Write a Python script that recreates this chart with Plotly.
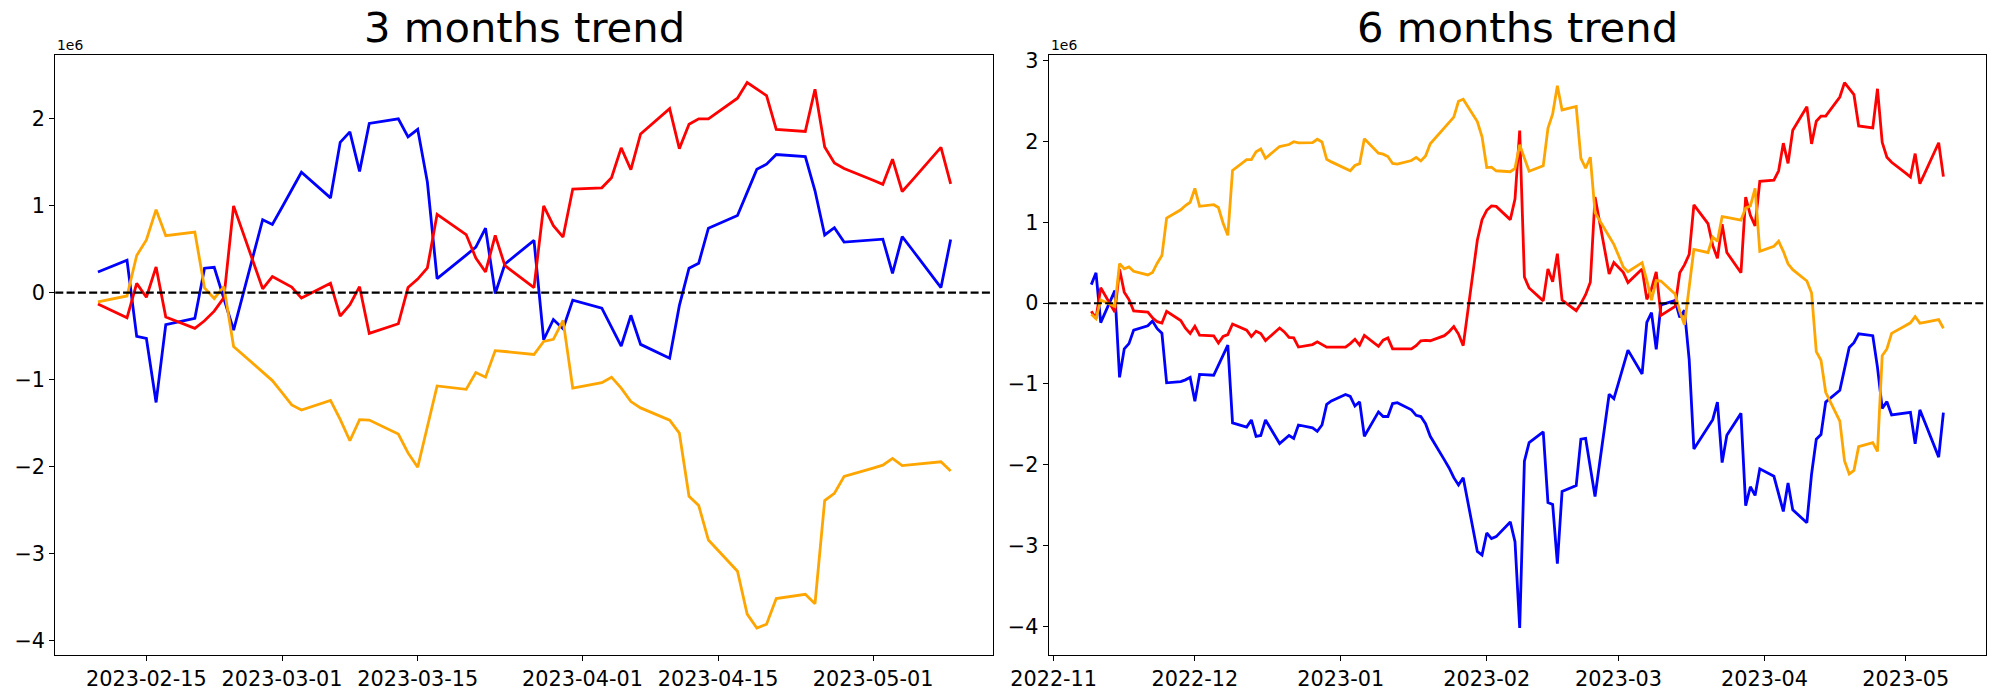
import pandas as pd
import plotly.graph_objects as go

# ---------------- data (values in millions) ----------------
dates_3m = pd.bdate_range("2023-02-10", "2023-05-09")
dates_6m = pd.bdate_range("2022-11-09", "2023-05-09")

blue_3m = [0.237, 0.372, -0.503, -0.527, -1.262, -0.368, -0.295, 0.280, 0.290, -0.070, -0.430, 0.837, 0.783,
           0.980, 1.180, 1.383, 1.088, 1.726, 1.847, 1.393, 1.944, 1.997, 1.789, 1.876, 1.267, 0.160, 0.430,
           0.522, 0.740, -0.010, 0.329, 0.600, -0.542, -0.309, -0.416, -0.087,
           -0.179, -0.397, -0.614, -0.261, -0.595, -0.754, -0.150, 0.280, 0.338, 0.740, 0.885, 1.151, 1.417,
           1.475, 1.586, 1.562, 1.170, 0.662, 0.745, 0.580,
           0.604, 0.614, 0.222, 0.643, 0.498, 0.058, 0.609]
red_3m = [-0.131, -0.290, 0.106, -0.053, 0.295, -0.280, -0.411, -0.324, -0.213, -0.058, 0.996, 0.044, 0.184,
          0.126, 0.063, -0.063, 0.106, -0.271, -0.140, 0.068, -0.469, -0.358, 0.058, 0.155, 0.285, 0.899, 0.667,
          0.397, 0.237, 0.658, 0.309, 0.058, 0.996, 0.769, 0.638, 1.190,
          1.204, 1.320, 1.663, 1.412, 1.823, 2.113, 1.654, 1.934, 1.997, 1.997, 2.234, 2.413, 2.340, 2.263,
          1.876, 1.852, 2.336, 1.673, 1.489, 1.426,
          1.291, 1.243, 1.533, 1.161, 1.286, 1.668, 1.248]
orange_3m = [-0.106, -0.039, 0.426, 0.604, 0.953, 0.653, 0.696, 0.053, -0.068, 0.068, -0.619, -0.914, -1.011,
             -1.150, -1.291, -1.349, -1.238, -1.456, -1.702, -1.460, -1.465, -1.625, -1.842, -2.007, -1.553,
             -1.073, -1.112, -0.919, -0.972, -0.667, -0.677, -0.711, -0.561, -0.537, -0.319, -1.098,
             -1.035, -0.972, -1.098, -1.252, -1.325, -1.465, -1.615, -2.340, -2.447, -2.843, -3.201, -3.694,
             -3.854, -3.810, -3.516, -3.467, -3.574, -2.389, -2.307, -2.113,
             -2.016, -1.983, -1.905, -1.987, -1.977, -1.944, -2.050]

blue_6m = [0.230, 0.376, -0.240, 0.155, -0.918, -0.565, -0.500, -0.333, -0.280, -0.220, -0.315, -0.372, -0.986,
           -0.970, -0.949, -0.918,
           -1.215, -0.882, -0.892, -0.767, -0.647, -0.518, -1.481, -1.534, -1.445, -1.648, -1.638, -1.445,
           -1.737, -1.685, -1.638, -1.675, -1.508, -1.544, -1.586, -1.508, -1.252, -1.210,
           -1.130, -1.153, -1.273, -1.221, -1.648, -1.346, -1.403, -1.403, -1.242, -1.231, -1.320, -1.388,
           -1.403, -1.492, -1.648, -1.940, -2.040, -2.160, -2.250, -2.160, -3.073, -3.119,
           -2.845, -2.915, -2.890, -2.708, -2.953, -4.022, -1.955,
           -1.727, -1.592, -2.467, -2.491, -3.226, -2.332, -2.259, -1.684, -1.674, -2.034, -2.394, -1.127, -1.181,
           -0.984, -0.784, -0.581, -0.876, -0.238, -0.117, -0.571, -0.020, 0.033, -0.175, -0.088, -0.697,
           -1.804, -1.534, -1.442, -1.224, -1.974, -1.635, -1.364, -2.506, -2.273, -2.380, -2.051,
           -2.143, -2.361, -2.578, -2.225, -2.559, -2.718, -2.114, -1.684, -1.626, -1.224, -1.079, -0.813,
           -0.547, -0.489, -0.378, -0.402, -0.794, -1.302, -1.219, -1.384,
           -1.360, -1.350, -1.742, -1.321, -1.466, -1.906, -1.355]
red_6m = [-0.099, -0.190, 0.192, -0.110, 0.420, 0.137, 0.045, -0.095, -0.110, -0.180, -0.229, -0.245, -0.100,
          -0.215, -0.310, -0.375,
          -0.285, -0.395, -0.403, -0.494, -0.411, -0.388, -0.257, -0.333, -0.413, -0.346, -0.375, -0.462,
          -0.307, -0.355, -0.423, -0.428, -0.543, -0.512, -0.478, -0.508, -0.545, -0.545,
          -0.545, -0.500, -0.446, -0.520, -0.400, -0.533, -0.458, -0.430, -0.566, -0.566, -0.566, -0.525,
          -0.465, -0.460, -0.465, -0.402, -0.353, -0.290, -0.382, -0.525, 0.780, 1.035,
          1.150, 1.205, 1.198, 1.035, 1.290, 2.137, 0.324,
          0.188, 0.029, 0.425, 0.266, 0.614, 0.039, -0.092, -0.005, 0.106, 0.261, 1.315, 0.363, 0.503,
          0.445, 0.382, 0.256, 0.425, 0.048, 0.179, 0.387, -0.150, -0.039, 0.377, 0.474, 0.604,
          1.218, 0.986, 0.716, 0.556, 0.977, 0.628, 0.377, 1.315, 1.088, 0.957, 1.509,
          1.523, 1.639, 1.982, 1.731, 2.142, 2.432, 1.973, 2.253, 2.316, 2.316, 2.553, 2.732,
          2.659, 2.582, 2.195, 2.171, 2.655, 1.992, 1.808, 1.745,
          1.610, 1.562, 1.852, 1.480, 1.605, 1.987, 1.567]
orange_6m = [-0.136, -0.190, 0.040, -0.040, 0.490, 0.427, 0.450, 0.395, 0.350, 0.380, 0.495, 0.590, 1.055,
             1.157, 1.210, 1.250,
             1.421, 1.200, 1.220, 1.185, 0.990, 0.841, 1.645, 1.778, 1.778, 1.876, 1.910, 1.795,
             1.940, 1.953, 1.965, 2.000, 1.985, 1.988, 2.030, 1.996, 1.782, 1.750,
             1.660, 1.640, 1.705, 1.728, 2.037, 1.858, 1.846, 1.816, 1.730, 1.723, 1.767, 1.806,
             1.762, 1.822, 1.975, 2.170, 2.235, 2.304, 2.500, 2.525, 2.250, 2.060,
             1.680, 1.684, 1.640, 1.628, 1.670, 1.962, 1.796,
             1.634, 1.701, 2.166, 2.344, 2.693, 2.393, 2.436, 1.793, 1.672, 1.808, 1.121, 0.826, 0.729,
             0.590, 0.449, 0.391, 0.502, 0.284, 0.038, 0.280, 0.275, 0.115, -0.102, -0.267, 0.187,
             0.667, 0.628, 0.821, 0.768, 1.073, 1.063, 1.029, 1.179, 1.203, 1.421, 0.642,
             0.705, 0.768, 0.642, 0.488, 0.415, 0.275, 0.125, -0.600, -0.707, -1.103, -1.461, -1.954,
             -2.114, -2.070, -1.776, -1.727, -1.834, -0.649, -0.567, -0.373,
             -0.276, -0.243, -0.165, -0.247, -0.237, -0.204, -0.310]

titles = ["3 months trend", "6 months trend"]
ticks_3m = ["2023-02-15", "2023-03-01", "2023-03-15", "2023-04-01", "2023-04-15", "2023-05-01"]
ticks_6m = ["2022-11-01", "2022-12-01", "2023-01-01", "2023-02-01", "2023-03-01", "2023-04-01", "2023-05-01"]
ticklabels_6m = ["2022-11", "2022-12", "2023-01", "2023-02", "2023-03", "2023-04", "2023-05"]
yticks_3m = [-4, -3, -2, -1, 0, 1, 2]
yticks_6m = [-4, -3, -2, -1, 0, 1, 2, 3]
SCALE = 1e6
colors = {"blue": "blue", "red": "red", "orange": "orange"}

# ---------------- layout geometry ----------------
W, H = 2000, 700
FONT = "DejaVu Sans"
top_px, bot_px = 55.3, 655.3
panels = [
    dict(x0=55.3, x1=993.3, dates=dates_3m, series=[blue_3m, red_3m, orange_3m],
         xt=ticks_3m, xtt=ticks_3m, yt=yticks_3m, title=titles[0]),
    dict(x0=1048.7, x1=1986.0, dates=dates_6m, series=[blue_6m, red_6m, orange_6m],
         xt=ticks_6m, xtt=ticklabels_6m, yt=yticks_6m, title=titles[1]),
]

fig = go.Figure()
ydom = [1 - bot_px / H, 1 - top_px / H]

def mfmt(v):
    return ("\u2212" + str(-v)) if v < 0 else str(v)

for i, p in enumerate(panels):
    sfx = "" if i == 0 else str(i + 1)
    xa, ya = "x" + sfx, "y" + sfx
    d = list(p["dates"])
    for s in p["series"]:
        assert len(s) == len(d), (len(s), len(d))
    for s, c in zip(p["series"], ["blue", "red", "orange"]):
        fig.add_trace(go.Scatter(x=d, y=[v * SCALE for v in s], mode="lines",
                                 line=dict(color=colors[c], width=2.8),
                                 xaxis=xa, yaxis=ya, showlegend=False, hoverinfo="skip"))
    t0, t1 = d[0], d[-1]
    span = t1 - t0
    xr = [t0 - span * 0.05, t1 + span * 0.05]
    allv = [v for s in p["series"] for v in s]
    lo, hi = min(allv), max(allv)
    yr = [(lo - 0.05 * (hi - lo)) * SCALE, (hi + 0.05 * (hi - lo)) * SCALE]
    axis_common = dict(showline=True, mirror=True, linecolor="black", linewidth=1.1,
                       ticks="outside", ticklen=5, tickwidth=1.1, tickcolor="black",
                       showgrid=False, zeroline=False, automargin=False,
                       tickfont=dict(family=FONT, size=20.8, color="black"))
    fig.layout["xaxis" + sfx] = dict(domain=[p["x0"] / W, p["x1"] / W], anchor=ya, type="date",
                                     range=[xr[0].isoformat(), xr[1].isoformat()],
                                     tickmode="array", tickvals=p["xt"], ticktext=p["xtt"],
                                     **axis_common)
    fig.layout["yaxis" + sfx] = dict(domain=ydom, anchor=xa, range=yr,
                                     tickmode="array", tickvals=[v * SCALE for v in p["yt"]],
                                     ticktext=[mfmt(v) for v in p["yt"]], **axis_common)
    fig.add_shape(type="line", xref=xa + " domain", yref=ya, x0=0, x1=1, y0=0, y1=0,
                  line=dict(color="black", width=2.1, dash="8px,3.3px"), layer="above")
    fig.add_annotation(text=p["title"], xref="paper", yref="paper",
                       x=(p["x0"] + p["x1"]) / 2 / W, y=ydom[1], xanchor="center", yanchor="bottom",
                       yshift=1, showarrow=False, font=dict(family=FONT, size=41.7, color="black"))
    fig.add_annotation(text="1e6", xref="paper", yref="paper", x=p["x0"] / W, y=ydom[1],
                       xanchor="left", yanchor="bottom", yshift=0, showarrow=False,
                       font=dict(family=FONT, size=13.9, color="black"))

fig.update_layout(width=W, height=H, autosize=False, margin=dict(l=0, r=0, t=0, b=0),
                  paper_bgcolor="white", plot_bgcolor="white")
fig.write_html("out.html", config={"displayModeBar": False},
               post_script="document.body.style.margin='0px';")
